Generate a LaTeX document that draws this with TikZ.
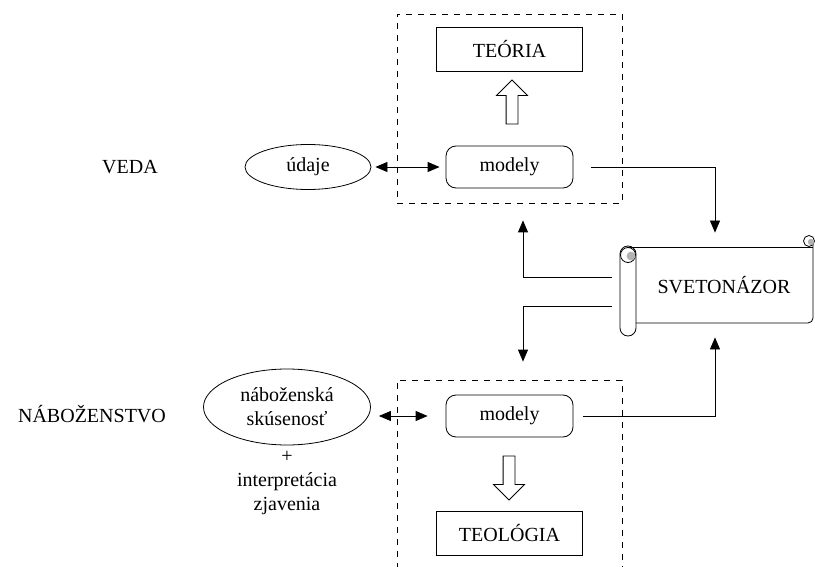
\documentclass[tikz,border=0pt]{standalone}
\usepackage{fontspec}
\setmainfont{Liberation Serif}
\usetikzlibrary{positioning,shapes.geometric,shapes.arrows,arrows.meta}

\begin{document}
\begin{tikzpicture}[x=0.5pt, y=-0.5pt,
      box/.style = {rectangle, draw, minimum width=73pt, minimum height=22pt,% plain boxes
                    inner sep=0pt, outer sep=0pt},
      mod/.style = {rectangle, draw, rounded corners=5pt,% rounded model boxes
                    minimum width=63.5pt, minimum height=21pt, inner sep=0pt},
     oval/.style = {ellipse, draw, inner sep=0pt, align=center},
    frame/.style = {rectangle, draw, dashed, minimum width=112.5pt, inner sep=0pt},
   hollow/.style = {single arrow, draw, inner sep=2.75pt, minimum height=22pt,
                    single arrow head extend=4.75pt},
      arr/.style = {-{Triangle[length=6pt,width=5pt]}},
      dbl/.style = {{Triangle[length=6pt,width=5pt]}-{Triangle[length=6pt,width=5pt]}},
                        ]
\clip (0,0) rectangle (815,567);
% frames
\node[frame, minimum height=94.5pt] (frameA) at (509.5,108.5) {};
\node[frame, minimum height=97.5pt] (frameB) at (509.5,477.5) {};
% science
\node (veda) at (130,167) {VEDA};
\node[oval, minimum width=63pt, minimum height=22.5pt] (udaje) at (308,167) {údaje};
\node[mod] (modA) at (509.5,167) {modely};
\node[box] (teoria) at (509.5,49.5) {TEÓRIA};
\node[hollow, shape border rotate=90] (upA) at (512,105) {};
% religion
\node (nab) at (92,414) {NÁBOŽENSTVO};
\node[oval, minimum width=83.5pt, minimum height=38pt] (nabsk) at (287,407)
     {náboženská\\skúsenosť};
\node (plus) at (287,457) {+};
\node[align=center, below=-2pt of plus] (interp) {interpretácia\\zjavenia};
\node[mod] (modB) at (509.5,416) {modely};
\node[box] (teologia) at (509.5,533.5) {TEOLÓGIA};
\node[hollow, shape border rotate=270] (downB) at (509,475) {};
% scroll
\node[minimum width=89pt, minimum height=38pt, inner sep=0pt] (svet) at (724,285) {SVETONÁZOR};
\node[draw, rounded corners=4pt, minimum width=8pt, minimum height=45pt, inner sep=0pt,
      fill=white] (roll) at (628,291) {};
\draw (628,247) -- (806,247);
\draw (636,323) -- (808,323) to[out=0,in=-90] (813,318) -- (813,245);
\draw[fill=white] (628,255) circle (3.75pt);
\fill[gray!60] (631,256) circle (2.2pt);
\draw[fill=white] (809,241) circle (2.75pt);
\fill[gray!60] (811,242) circle (1.6pt);
\draw (804,247) -- (813,247);
% connectors
\draw[dbl, shorten <=2pt, shorten >=3pt] (udaje) -- (modA);
\draw[dbl, shorten <=4pt, shorten >=9pt] (nabsk.east |- modB) -- (modB);
\draw[arr, shorten <=9pt, shorten >=7pt] (modA.east) -| ([xshift=-4.5pt]svet.north);
\draw[arr, shorten <=5pt, shorten >=7pt] (modB.east) -| ([xshift=-4.5pt]svet.south);
\draw[arr, shorten <=4pt, shorten >=8.5pt] ([yshift=7pt]roll.west) -| ([xshift=6.75pt]frameA.south);
\draw[arr, shorten <=4pt, shorten >=9pt] ([yshift=-7.5pt]roll.west) -| ([xshift=6.75pt]frameB.north);
\end{tikzpicture}
\end{document}
